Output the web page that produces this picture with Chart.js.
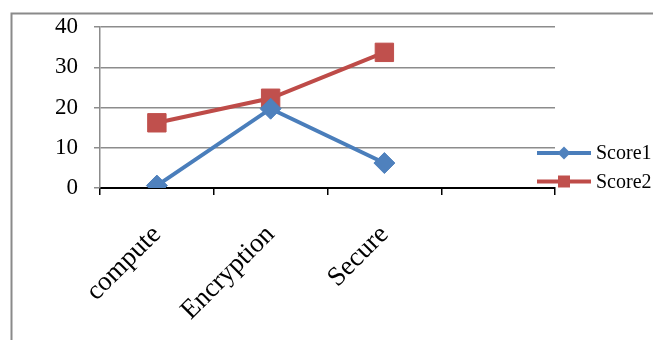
<!DOCTYPE html>
<html>
<head>
<meta charset="utf-8">
<script src="https://cdn.jsdelivr.net/npm/chart.js@4.4.1/dist/chart.umd.min.js"></script>
<style>
  html, body { margin: 0; padding: 0; background: #ffffff; }
  #wrap { position: relative; width: 653px; height: 340px; }
</style>
</head>
<body>
<div id="wrap"><canvas id="chart" width="653" height="340"></canvas></div>
<script>
// Categories (the last slot is left empty on the axis)
const categories = ['compute', 'Encryption', 'Secure', ''];
// Series values
const score1 = [0.6, 19.7, 6.2, null];
const score2 = [16.2, 22.3, 33.7, null];
// Value axis ticks
const yTicks = [0, 10, 20, 30, 40];

const serif = '"Liberation Serif", "Times New Roman", serif';

// Outer frame around the chart
const framePlugin = {
  id: 'frame',
  beforeDraw(chart) {
    const ctx = chart.ctx;
    ctx.save();
    ctx.strokeStyle = '#8a8a8a';
    ctx.lineWidth = 2;
    ctx.beginPath();
    ctx.moveTo(11.5, 340);
    ctx.lineTo(11.5, 13.5);
    ctx.lineTo(653, 13.5);
    ctx.stroke();
    ctx.restore();
  }
};

// Legend on the right: line sample with marker, then the series name
const sideLegend = {
  id: 'sideLegend',
  afterDraw(chart) {
    const ctx = chart.ctx;
    ctx.save();
    chart.data.datasets.forEach((ds, i) => {
      const y = 153 + i * 28.5;
      const x0 = 537, x1 = 591, xm = 564;
      ctx.strokeStyle = ds.borderColor;
      ctx.lineWidth = 4;
      ctx.beginPath();
      ctx.moveTo(x0, y);
      ctx.lineTo(x1, y);
      ctx.stroke();
      ctx.fillStyle = ds.pointBackgroundColor;
      ctx.beginPath();
      if (ds.pointStyle === 'rectRot') {
        const r = 6.5;
        ctx.moveTo(xm, y - r);
        ctx.lineTo(xm + r, y);
        ctx.lineTo(xm, y + r);
        ctx.lineTo(xm - r, y);
        ctx.closePath();
      } else {
        ctx.rect(xm - 6, y - 6, 12, 12);
      }
      ctx.fill();
      ctx.fillStyle = '#000000';
      ctx.font = '20px ' + serif;
      ctx.textAlign = 'left';
      ctx.textBaseline = 'middle';
      ctx.fillText(ds.label, 596, y + 1);
    });
    ctx.restore();
  }
};

new Chart(document.getElementById('chart'), {
  type: 'line',
  data: {
    labels: categories,
    datasets: [
      {
        label: 'Score1',
        data: score1,
        borderColor: '#4A7EBB',
        backgroundColor: '#4F81BD',
        pointBackgroundColor: '#4F81BD',
        pointBorderColor: '#4F81BD',
        borderWidth: 4,
        pointStyle: 'rectRot',
        pointRadius: 10.5,
        pointBorderWidth: 1,
        tension: 0,
        spanGaps: false
      },
      {
        label: 'Score2',
        data: score2,
        borderColor: '#BE4B48',
        backgroundColor: '#C0504D',
        pointBackgroundColor: '#C0504D',
        pointBorderColor: '#C0504D',
        borderWidth: 4,
        pointStyle: 'rect',
        pointRadius: 13,
        pointBorderWidth: 1,
        tension: 0,
        spanGaps: false
      }
    ]
  },
  options: {
    responsive: false,
    animation: false,
    layout: { padding: { top: 27, right: 98, left: 0, bottom: 0 } },
    plugins: {
      legend: { display: false },
      tooltip: { enabled: false }
    },
    scales: {
      x: {
        offset: true,
        grid: {
          offset: true,
          drawOnChartArea: false,
          drawTicks: true,
          tickLength: 7,
          color: '#000000',
          lineWidth: 1.5
        },
        border: { display: true, color: '#000000', width: 2 },
        ticks: {
          autoSkip: false,
          minRotation: 45,
          maxRotation: 45,
          padding: 24,
          color: '#000000',
          font: { family: serif, size: 27 }
        },
        afterFit(scale) { scale.height = 152; }
      },
      y: {
        min: 0,
        max: 40,
        afterBuildTicks(scale) { scale.ticks = yTicks.map(v => ({ value: v })); },
        grid: {
          color: '#8c8c8c',
          lineWidth: 1.5,
          drawTicks: true,
          tickLength: 6
        },
        border: { display: true, color: '#8c8c8c', width: 1.5 },
        ticks: {
          padding: 16,
          color: '#000000',
          font: { family: serif, size: 23 }
        },
        afterFit(scale) {
          scale.width = 100;
          scale.paddingTop = 0;
          scale.paddingBottom = 0;
        }
      }
    }
  },
  plugins: [framePlugin, sideLegend]
});
</script>
</body>
</html>
